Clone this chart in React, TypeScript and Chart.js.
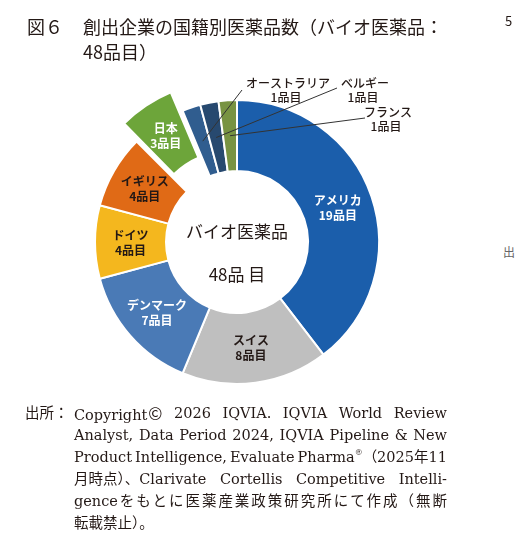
import React, { useEffect, useRef } from "react";
import { Chart, registerables } from "chart.js";

Chart.register(...registerables);

// ---- data ----
const countries = ["アメリカ", "スイス", "デンマーク", "ドイツ", "イギリス", "日本", "オーストラリア", "ベルギー", "フランス"];
const counts = [19, 8, 7, 4, 4, 3, 1, 1, 1];
const unitLabel = "品目";
const centerTitle = "バイオ医薬品";
const centerTotal = "48品 目";

// ---- styles ----
const sliceColors = ["#1B5EAB", "#BFBFBF", "#4A7AB6", "#F4B71E", "#E06A16", "#6DA53A", "#305D8F", "#27496F", "#789342"];
const labelColors = ["#ffffff", "#231815", "#ffffff", "#231815", "#231815", "#ffffff", "#231815", "#231815", "#231815"];
const sliceOffsets = [0, 0, 0, 0, 0, 54, 0, 0, 0];
const calloutIndices = [6, 7, 8];
// layout of the callout labels, relative to the doughnut centre
const calloutTextPos = [[51, -159], [128, -159], [151, -130]];
const calloutLineEnd = [[5, -152], [100, -154], [128, -124]];

const FONT = "'Noto Sans CJK JP', 'Noto Sans', sans-serif";

const labelPlugin = {
  id: "sliceLabels",
  afterDatasetsDraw(chart: any) {
    const ctx = chart.ctx;
    const meta = chart.getDatasetMeta(0);
    const arcs = meta.data;
    if (!arcs.length) return;
    const cx = arcs[0].x;
    const cy = arcs[0].y;
    ctx.save();
    ctx.textAlign = "center";
    ctx.textBaseline = "middle";
    arcs.forEach((arc: any, i: number) => {
      if (calloutIndices.includes(i)) return;
      const mid = (arc.startAngle + arc.endAngle) / 2;
      // same displacement Chart.js applies to an offset arc
      const t = (arc.options.offset || 0) / 4;
      const circ = arc.endAngle - arc.startAngle;
      const grow = t * (1 - Math.sin(Math.min(Math.PI, circ)));
      const r = (arc.innerRadius + arc.outerRadius) / 2 + t + grow;
      const x = arc.x + Math.cos(mid) * r;
      const y = arc.y + Math.sin(mid) * r;
      ctx.fillStyle = labelColors[i];
      ctx.font = `bold 12px ${FONT}`;
      ctx.fillText(countries[i], x, y - 7);
      ctx.fillText(`${counts[i]}${unitLabel}`, x, y + 8);
    });
    // callouts
    calloutIndices.forEach((idx, k) => {
      const arc: any = arcs[idx];
      const mid = (arc.startAngle + arc.endAngle) / 2;
      const r = (arc.innerRadius + arc.outerRadius) / 2;
      const sx = arc.x + Math.cos(mid) * r;
      const sy = arc.y + Math.sin(mid) * r;
      const ex = cx + calloutLineEnd[k][0];
      const ey = cy + calloutLineEnd[k][1];
      ctx.strokeStyle = "#333333";
      ctx.lineWidth = 1;
      ctx.beginPath();
      ctx.moveTo(sx, sy);
      ctx.lineTo(ex, ey);
      ctx.stroke();
      const tx = cx + calloutTextPos[k][0];
      const ty = cy + calloutTextPos[k][1];
      ctx.fillStyle = labelColors[idx];
      ctx.font = `500 12px ${FONT}`;
      ctx.fillText(countries[idx], tx, ty);
      ctx.fillText(`${counts[idx]}${unitLabel}`, tx - 2, ty + 14);
    });
    // centre text
    ctx.fillStyle = "#231815";
    ctx.font = `17px ${FONT}`;
    ctx.fillText(centerTitle, cx, cy - 10);
    ctx.fillText(centerTotal, cx, cy + 33);
    ctx.restore();
  },
};

function DonutChart() {
  const ref = useRef<HTMLCanvasElement>(null);
  useEffect(() => {
    if (!ref.current) return;
    const chart = new Chart(ref.current, {
      type: "doughnut",
      data: {
        labels: countries,
        datasets: [
          {
            data: counts,
            backgroundColor: sliceColors,
            borderColor: "#ffffff",
            borderWidth: 2,
            offset: sliceOffsets,
          } as any,
        ],
      },
      options: {
        responsive: false,
        animation: false,
        radius: 142,
        cutout: "50%",
        rotation: 0,
        layout: { padding: 0 },
        events: [],
        plugins: {
          legend: { display: false },
          tooltip: { enabled: false },
          title: { display: false },
        },
      } as any,
      plugins: [labelPlugin],
    });
    return () => chart.destroy();
  }, []);
  return (
    <canvas
      ref={ref}
      width={474}
      height={484}
      style={{ position: "absolute", left: 0, top: 0, width: 474, height: 484 }}
    />
  );
}

const sourceLines = [
  "Copyright© 2026 IQVIA. IQVIA World Review",
  "Analyst, Data Period 2024, IQVIA Pipeline & New",
  "Product Intelligence, Evaluate Pharma®（2025年11",
  "月時点）、Clarivate Cortellis Competitive Intelli-",
  "genceをもとに医薬産業政策研究所にて作成（無断",
  "転載禁止）。",
];

function renderWord(w: string) {
  if (w.includes("®")) {
    const parts = w.split("®");
    return (
      <>
        {parts[0]}
        <sup style={{ fontSize: 8, verticalAlign: "top", lineHeight: "14px" }}>®</sup>
        {parts[1]}
      </>
    );
  }
  if (w.includes("©")) {
    const parts = w.split("©");
    return (
      <>
        {parts[0]}
        <span style={{ fontFamily: FONT, fontSize: 17, marginLeft: 1 }}>©</span>
        {parts[1]}
      </>
    );
  }
  return w;
}

export default function App() {
  const sans = FONT;
  const serif = "'DejaVu Serif', 'Liberation Serif', 'Noto Sans CJK JP', serif";
  return (
    <div style={{ position: "absolute", left: 0, top: 0, width: 516, height: 545, background: "#fff", overflow: "hidden" }}>
      <DonutChart />
      <div style={{ position: "absolute", left: 27, top: 14, fontFamily: sans, fontSize: 18, lineHeight: "25px", color: "#231815" }}>
        図６
      </div>
      <div style={{ position: "absolute", left: 83, top: 14, fontFamily: sans, fontSize: 18, lineHeight: "25px", color: "#231815", whiteSpace: "nowrap" }}>
        創出企業の国籍別医薬品数（バイオ医薬品：
        <br />
        48品目）
      </div>
      <div style={{ position: "absolute", left: 505, top: 11, fontFamily: sans, fontSize: 13, color: "#231815" }}>5</div>
      <div style={{ position: "absolute", left: 503, top: 243, fontFamily: sans, fontSize: 12, color: "#666" }}>出</div>
      <div style={{ position: "absolute", left: 25, top: 402, fontFamily: serif, fontSize: 14.5, lineHeight: "22px", color: "#231815" }}>
        出所：
      </div>
      <div style={{ position: "absolute", left: 74, top: 402, width: 373, fontFamily: serif, fontSize: 14.5, lineHeight: "22px", color: "#231815" }}>
        {sourceLines.map((line, i) => {
          const last = i === sourceLines.length - 1;
          const words = line.split(" ");
          if (!last && words.length > 1) {
            return (
              <div key={i} style={{ display: "flex", justifyContent: "space-between", columnGap: 3, whiteSpace: "nowrap", height: 22 }}>
                {words.map((w, j) => (
                  <span key={j}>{renderWord(w)}</span>
                ))}
              </div>
            );
          }
          return (
            <div
              key={i}
              style={{
                whiteSpace: "nowrap",
                height: 22,
                textAlign: last ? "left" : "justify",
                textAlignLast: last ? "left" : "justify",
              } as any}
            >
              {line}
            </div>
          );
        })}
      </div>
    </div>
  );
}
